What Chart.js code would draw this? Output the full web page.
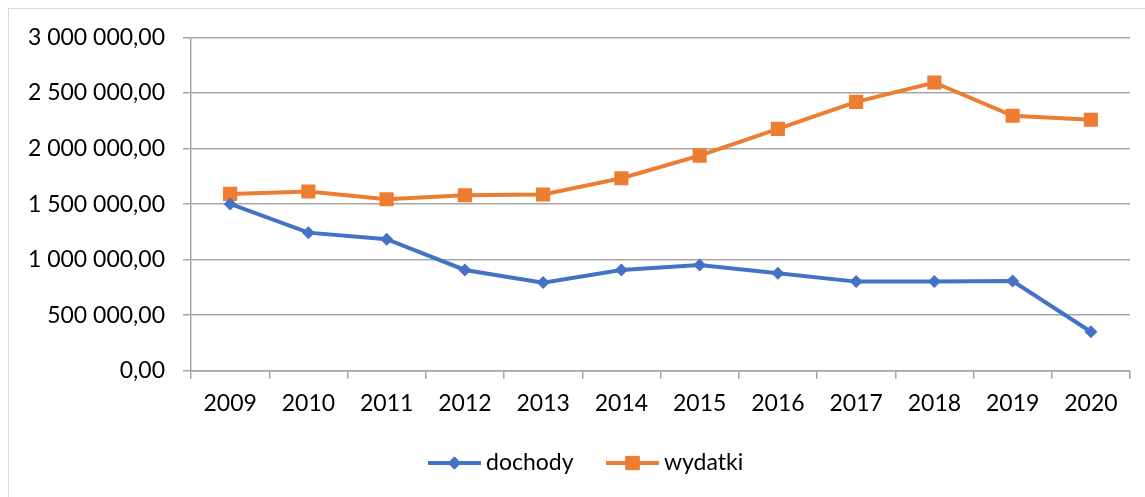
<!DOCTYPE html>
<html>
<head>
<meta charset="utf-8">
<script src="https://cdn.jsdelivr.net/npm/chart.js@4/dist/chart.umd.min.js"></script>
<style>
  html, body { margin: 0; padding: 0; background: #fff; overflow: hidden; }
  #wrap { position: relative; width: 1145px; height: 497px; }
</style>
</head>
<body>
<div id="wrap"><canvas id="chart" width="1145" height="497"></canvas></div>
<script>
// ── Data
const years   = ['2009', '2010', '2011', '2012', '2013', '2014', '2015', '2016', '2017', '2018', '2019', '2020'];
const dochody = [1502000, 1243000, 1184000, 907000, 793000, 907000, 952000, 877000, 802000, 802000, 808000, 351000];
const wydatki = [1592000, 1613000, 1544000, 1580000, 1586000, 1733000, 1937000, 2177000, 2421000, 2595000, 2295000, 2259000];
const yTickLabels = ['0,00', '500 000,00', '1 000 000,00', '1 500 000,00', '2 000 000,00', '2 500 000,00', '3 000 000,00'];

const BLUE   = '#4472C4';
const ORANGE = '#ED7D31';
const GRID   = '#a6a6a6';
const FONT   = 'Lato, "Open Sans", sans-serif';

// ── Outer frame + hand-drawn legend (line with marker, like the Excel original)
const framePlugin = {
  id: 'frame',
  beforeDraw(chart) {
    const c = chart.ctx;
    c.save();
    c.strokeStyle = '#d9d9d9';
    c.lineWidth = 1;
    c.strokeRect(8.5, 8.5, 1300, 700);
    c.restore();
  },
  afterDraw(chart) {
    const c = chart.ctx;
    const y = 463;
    const items = [
      { x: 428, label: 'dochody', color: BLUE,   style: 'rectRot', r: 6.5 },
      { x: 606, label: 'wydatki', color: ORANGE, style: 'rect',    r: 10  }
    ];
    c.save();
    items.forEach(it => {
      c.strokeStyle = it.color;
      c.lineWidth = 4;
      c.beginPath();
      c.moveTo(it.x, y);
      c.lineTo(it.x + 53, y);
      c.stroke();
      c.fillStyle = it.color;
      Chart.helpers.drawPoint(c, { pointStyle: it.style, radius: it.r, borderWidth: 0 }, it.x + 26.5, y);
      c.fill();
      c.fillStyle = '#000';
      c.font = '23px ' + FONT;
      c.textBaseline = 'middle';
      c.textAlign = 'left';
      c.fillText(it.label, it.x + 58, y);
    });
    c.restore();
  }
};

new Chart(document.getElementById('chart'), {
  type: 'line',
  data: {
    labels: years,
    datasets: [
      { label: 'dochody', data: dochody, borderColor: BLUE, backgroundColor: BLUE,
        borderWidth: 4, pointStyle: 'rectRot', pointRadius: 6.5, pointBorderWidth: 0, tension: 0 },
      { label: 'wydatki', data: wydatki, borderColor: ORANGE, backgroundColor: ORANGE,
        borderWidth: 4, pointStyle: 'rect', pointRadius: 10, pointBorderWidth: 0, tension: 0 }
    ]
  },
  options: {
    responsive: false,
    animation: false,
    layout: { padding: { left: 0, top: 37.5, right: 15, bottom: 0 } },
    plugins: { legend: { display: false }, tooltip: { enabled: false } },
    scales: {
      x: {
        offset: true,
        grid: { offset: true, drawOnChartArea: false, drawTicks: true, tickLength: 8, color: GRID, lineWidth: 1.5 },
        border: { display: true, color: GRID, width: 1.5 },
        ticks: { color: '#000', font: { family: FONT, size: 23 }, padding: 11, maxRotation: 0, autoSkip: false },
        afterFit: s => { s.height = 126.3; }
      },
      y: {
        min: 0,
        max: 3000000,
        grid: { color: GRID, lineWidth: 1.5, drawTicks: true, tickLength: 8 },
        border: { display: true, color: GRID, width: 1.5 },
        ticks: { stepSize: 500000, color: '#000', font: { family: FONT, size: 23 }, padding: 18,
                 callback: (v, i) => yTickLabels[i] },
        afterFit: s => { s.width = 191; }
      }
    }
  },
  plugins: [framePlugin]
});
</script>
</body>
</html>
